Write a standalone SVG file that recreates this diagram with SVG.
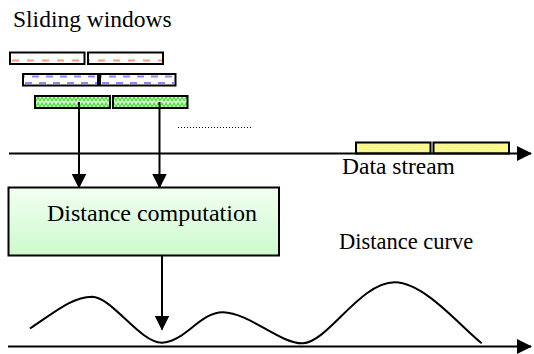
<svg xmlns="http://www.w3.org/2000/svg" width="534" height="354" viewBox="0 0 534 354">
<style>
.win{stroke:#000;stroke-width:2}
.ln{stroke:#000;stroke-width:2;fill:none}
</style>
<defs>
<pattern id="zig" width="8" height="6" patternUnits="userSpaceOnUse">
<rect width="8" height="6" fill="#d8ffd0"/>
<path d="M0,5 L2,1 L4,5 L6,1 L8,5" stroke="#55dd44" stroke-width="1.3" fill="none"/>
</pattern>
<pattern id="dots" width="4" height="4" patternUnits="userSpaceOnUse">
<rect width="4" height="4" fill="#ffff55"/>
<rect x="0" y="0" width="1" height="1" fill="#ffffd0"/>
<rect x="2" y="2" width="1" height="1" fill="#ffffd0"/>
</pattern>
<linearGradient id="boxg" x1="0" y1="0" x2="0" y2="1">
<stop offset="0" stop-color="#f2fff2"/>
<stop offset="1" stop-color="#ccfacc"/>
</linearGradient>
<marker id="ah" markerWidth="15" markerHeight="15" refX="14" refY="7.5" orient="auto" markerUnits="userSpaceOnUse">
<path d="M0,0 L15,7.5 L0,15 Z" fill="#000"/>
</marker>
</defs>

<g id="title"><text font-family="Liberation Serif, serif" x="13" y="27" font-size="23.5" fill="#000">Sliding windows</text></g>

<g id="windows-row1">
<rect class="win" x="10" y="52.5" width="74.5" height="11.5" fill="#fff"/>
<rect class="win" x="88" y="52.5" width="75" height="11.5" fill="#fff"/>
<line x1="11" y1="60.5" x2="84" y2="60.5" stroke="#ff9a70" stroke-width="2" stroke-dasharray="7,8" stroke-dashoffset="-1"/>
<line x1="89" y1="60.5" x2="162" y2="60.5" stroke="#ff9a70" stroke-width="2" stroke-dasharray="7,8" stroke-dashoffset="-9"/>
</g>

<g id="windows-row2">
<rect class="win" x="23" y="74" width="75" height="11.5" fill="#fff"/>
<rect class="win" x="100" y="74" width="75.5" height="11.5" fill="#fff"/>
<line x1="24" y1="76.5" x2="97" y2="76.5" stroke="#8888ff" stroke-width="2" stroke-dasharray="7,7" stroke-dashoffset="-8"/>
<line x1="24" y1="83" x2="97" y2="83" stroke="#8888ff" stroke-width="2" stroke-dasharray="7,7" stroke-dashoffset="-1"/>
<line x1="101" y1="76.5" x2="174.5" y2="76.5" stroke="#8888ff" stroke-width="2" stroke-dasharray="7,7" stroke-dashoffset="-8"/>
<line x1="101" y1="83" x2="174.5" y2="83" stroke="#8888ff" stroke-width="2" stroke-dasharray="7,7" stroke-dashoffset="-1"/>
</g>

<g id="windows-row3">
<rect class="win" x="35" y="96" width="75" height="12" fill="url(#zig)"/>
<rect class="win" x="113" y="96" width="74.5" height="12" fill="url(#zig)"/>
</g>

<g id="dots-line"><line x1="178" y1="127.5" x2="252" y2="127.5" stroke="#000" stroke-width="1" stroke-dasharray="1,2"/></g>

<g id="stream-windows">
<rect class="win" x="356" y="142.5" width="74.5" height="11" fill="url(#dots)"/>
<rect class="win" x="433.5" y="142.5" width="75.5" height="11" fill="url(#dots)"/>
</g>

<g id="data-stream-label"><text font-family="Liberation Serif, serif" x="342" y="173.5" font-size="23.5" fill="#000">Data stream</text></g>

<g id="distance-box">
<rect x="8.5" y="187.5" width="270.5" height="68" fill="url(#boxg)" stroke="#000" stroke-width="2"/>
<text font-family="Liberation Serif, serif" x="47" y="221" font-size="24" fill="#000">Distance computation</text>
</g>

<g id="distance-curve-label"><text font-family="Liberation Serif, serif" x="339" y="249" font-size="22.5" fill="#000">Distance curve</text></g>

<g id="curve">
<path class="ln" d="M30,328.5 C55,312 72,297 92,296.7 C112,297 140,343 162,342.7 C185,342 200,312 223,312.3 C250,313 280,344 303,343.3 C328,342 360,282 395,282.3 C425,283 460,326 481.7,343.3"/>
</g>

<g id="connectors">
<line class="ln" x1="9" y1="153.5" x2="531" y2="153.5" marker-end="url(#ah)"/>
<line class="ln" x1="8" y1="346.5" x2="531" y2="346.5" marker-end="url(#ah)"/>
<line class="ln" x1="79" y1="102" x2="79" y2="187.5" marker-end="url(#ah)"/>
<line class="ln" x1="159.5" y1="102" x2="159.5" y2="187.5" marker-end="url(#ah)"/>
<line class="ln" x1="162" y1="256" x2="162" y2="329.5" marker-end="url(#ah)"/>
</g>
</svg>
